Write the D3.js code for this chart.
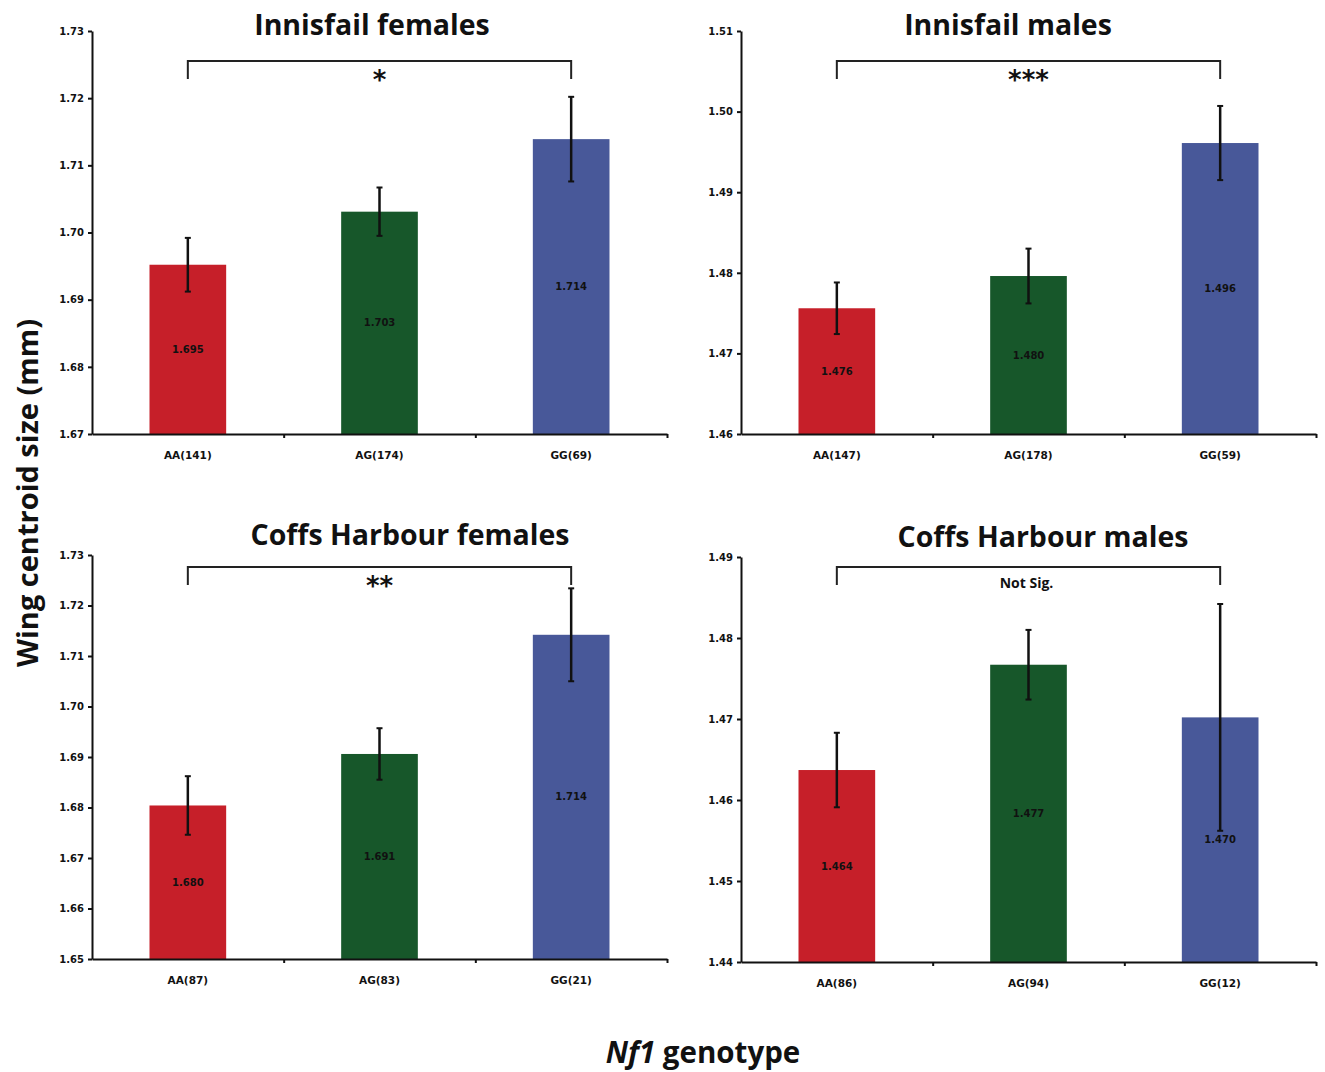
<!DOCTYPE html>
<html lang="en">
<head>
<meta charset="UTF-8">
<title>Wing centroid size by Nf1 genotype</title>
<script src="https://d3js.org/d3.v7.min.js"></script>
<style>
	body{margin:0;background:#fff;}
	.axis path,.axis line{stroke:#111;stroke-width:2px;}
	.axis text{font-family:"DejaVu Sans",sans-serif;font-weight:bold;font-size:10px;fill:#111;}
	.title{font-family:"Open Sans",sans-serif;font-weight:700;font-size:28.5px;fill:#111;}
	.val{font-family:"DejaVu Sans",sans-serif;font-weight:bold;font-size:10px;fill:#111;}
	.cat{font-family:"DejaVu Sans",sans-serif;font-weight:bold;font-size:10.5px;fill:#111;}
</style>
</head>
<body>
<script>
// data
var genotypes = ["AA", "AG", "GG"];
var panelTitles = ["Innisfail females", "Innisfail males", "Coffs Harbour females", "Coffs Harbour males"];
var sampleSizes = [[141, 174, 69], [147, 178, 59], [87, 83, 21], [86, 94, 12]];
var means = [[1.6952, 1.7031, 1.7139], [1.4756, 1.4796, 1.4961], [1.6804, 1.6906, 1.7142], [1.4637, 1.4767, 1.4702]];
var errors = [[0.0040, 0.0036, 0.0063], [0.0032, 0.0034, 0.0046], [0.0058, 0.0051, 0.0092], [0.0046, 0.0043, 0.0140]];
var yDomains = [[1.67, 1.73], [1.46, 1.51], [1.65, 1.73], [1.44, 1.49]];
var sigLabels = ["*", "***", "**", "Not Sig."];
var barColors = ["#c61f29", "#17572a", "#485899"];

// panel layout (plot areas in page pixels), by = bracket offset below plot top
var panels = [
	{x: 92, y: 31, w: 575, h: 403, tx: 372, ty: 35, by: 30},
	{x: 741, y: 31, w: 575, h: 403, tx: 1008, ty: 35, by: 30},
	{x: 92, y: 555, w: 575, h: 404, tx: 410, ty: 545, by: 12},
	{x: 741, y: 557, w: 575, h: 405, tx: 1043, ty: 547, by: 10}
];

var svg = d3.select("body").append("svg")
	.attr("width", 1325)
	.attr("height", 1072);

panels.forEach(function(p, i){
	var g = svg.append("g").attr("transform", "translate(" + p.x + "," + p.y + ")");

	var x = d3.scaleBand().domain(genotypes).range([0, p.w]).paddingInner(0).paddingOuter(0);
	var y = d3.scaleLinear().domain(yDomains[i]).range([p.h, 0]);
	var bw = x.bandwidth() * 0.4;

	var rows = genotypes.map(function(gt, j){
		return {gt: gt, n: sampleSizes[i][j], m: means[i][j], e: errors[i][j], c: barColors[j]};
	});

	// bars
	g.selectAll(".bar").data(rows).enter().append("rect")
		.attr("x", function(d){ return x(d.gt) + (x.bandwidth() - bw) / 2; })
		.attr("y", function(d){ return y(d.m); })
		.attr("width", bw)
		.attr("height", function(d){ return p.h - y(d.m); })
		.attr("fill", function(d){ return d.c; });

	// value labels
	g.selectAll(".val").data(rows).enter().append("text")
		.attr("class", "val")
		.attr("x", function(d){ return x(d.gt) + x.bandwidth() / 2; })
		.attr("y", function(d){ return (y(d.m) + p.h) / 2; })
		.attr("dy", "0.35em")
		.attr("text-anchor", "middle")
		.text(function(d){ return d.m.toFixed(3); });

	// error bars
	var eb = g.selectAll(".err").data(rows).enter().append("g")
		.attr("transform", function(d){ return "translate(" + (x(d.gt) + x.bandwidth() / 2) + ",0)"; });
	eb.append("line")
		.attr("y1", function(d){ return y(d.m + d.e); })
		.attr("y2", function(d){ return y(d.m - d.e); })
		.attr("stroke", "#111").attr("stroke-width", 2.5);
	eb.append("line")
		.attr("x1", -3).attr("x2", 3)
		.attr("y1", function(d){ return y(d.m + d.e); })
		.attr("y2", function(d){ return y(d.m + d.e); })
		.attr("stroke", "#111").attr("stroke-width", 2);
	eb.append("line")
		.attr("x1", -3).attr("x2", 3)
		.attr("y1", function(d){ return y(d.m - d.e); })
		.attr("y2", function(d){ return y(d.m - d.e); })
		.attr("stroke", "#111").attr("stroke-width", 2);

	// y axis
	var yTicks = d3.range(Math.round((yDomains[i][1] - yDomains[i][0]) / 0.01) + 1)
		.map(function(k){ return yDomains[i][0] + k * 0.01; });
	g.append("g").attr("class", "axis")
		.call(d3.axisLeft(y).tickValues(yTicks).tickFormat(d3.format(".2f")).tickSize(4).tickSizeOuter(0).tickPadding(4));

	// x axis with ticks at category boundaries
	var xb = d3.scaleLinear().domain([0, 3]).range([0, p.w]);
	g.append("g").attr("class", "axis")
		.attr("transform", "translate(0," + p.h + ")")
		.call(d3.axisBottom(xb).tickValues([1, 2, 3]).tickFormat("").tickSize(4).tickSizeOuter(0));

	// category labels
	g.selectAll(".cat").data(rows).enter().append("text")
		.attr("class", "cat")
		.attr("x", function(d){ return x(d.gt) + x.bandwidth() / 2; })
		.attr("y", p.h + 25)
		.attr("text-anchor", "middle")
		.text(function(d){ return d.gt + "(" + d.n + ")"; });

	// significance bracket
	var x1 = x(genotypes[0]) + x.bandwidth() / 2,
		x2 = x(genotypes[2]) + x.bandwidth() / 2,
		by = p.by;
	g.append("path")
		.attr("d", "M" + x1 + "," + (by + 18) + "V" + by + "H" + x2 + "V" + (by + 18))
		.attr("fill", "none").attr("stroke", "#222").attr("stroke-width", 2);
	var ns = sigLabels[i] === "Not Sig.";
	g.append("text")
		.attr("x", (x1 + x2) / 2 - (ns ? 2 : 0))
		.attr("y", ns ? by + 21 : by + 28)
		.attr("text-anchor", "middle")
		.style("font-family", ns ? "'Open Sans',sans-serif" : "'DejaVu Sans',sans-serif")
		.style("font-weight", "bold")
		.style("font-size", ns ? "14px" : "26px")
		.attr("fill", "#111")
		.text(sigLabels[i]);

	// panel title
	svg.append("text").attr("class", "title")
		.attr("x", p.tx).attr("y", p.ty)
		.attr("text-anchor", "middle")
		.text(panelTitles[i]);
});

// shared axis titles
svg.append("text")
	.attr("transform", "translate(38,493) rotate(-90)")
	.attr("text-anchor", "middle")
	.style("font-family", "'Open Sans',sans-serif").style("font-weight", "700").style("font-size", "29px")
	.attr("fill", "#111")
	.text("Wing centroid size (mm)");

var xt = svg.append("text")
	.attr("x", 703).attr("y", 1063)
	.attr("text-anchor", "middle")
	.style("font-family", "'Open Sans',sans-serif").style("font-weight", "700").style("font-size", "29.5px")
	.attr("fill", "#111");
xt.append("tspan").style("font-style", "italic").text("Nf1");
xt.append("tspan").text(" genotype");
</script>
</body>
</html>
